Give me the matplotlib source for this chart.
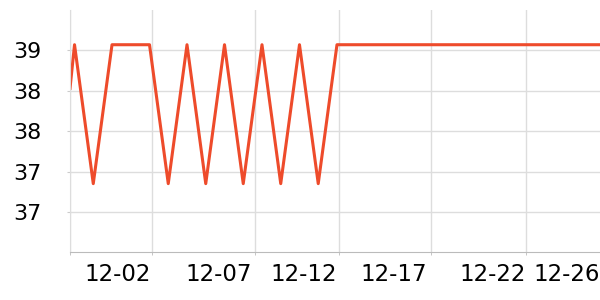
import matplotlib
matplotlib.use("Agg")
import matplotlib.pyplot as plt
from matplotlib.ticker import FuncFormatter

# readings, x in step units (one step = one reading interval)
x_pos = [-0.24, 0, 1, 2, 3, 4, 5, 6, 7, 8, 9, 10, 11, 12, 13, 14, 28.03]
temps = [38.53, 39.07, 37.35, 39.07, 39.07, 39.07, 37.35, 39.07, 37.35,
         39.07, 37.35, 39.07, 37.35, 39.07, 37.35, 39.07, 39.07]

grid_x = [-0.24, 4.107, 9.653, 14.107, 19.04, 24.107]
label_x = [2.28, 7.71, 12.25, 17.04, 22.3, 26.27]
date_labels = ["12-02", "12-07", "12-12", "12-17", "12-22", "12-26"]
y_ticks = [37, 37.5, 38, 38.5, 39]

fig = plt.figure(figsize=(6, 3), dpi=100)
ax = fig.add_axes([0.1167, 0.159, 0.8833, 0.8077])

ax.plot(x_pos, temps, color="#ee4b2b", lw=2.2, solid_joinstyle="round")

ax.set_xlim(-0.24, 28.03)
ax.set_ylim(36.5, 39.5)

ax.set_yticks(y_ticks)
ax.yaxis.set_major_formatter(FuncFormatter(lambda v, p: str(int(v))))

ax.set_xticks(grid_x, minor=True)
ax.set_xticks(label_x)
ax.set_xticklabels(date_labels)

ax.grid(True, axis="y", color="#dddddd", lw=1)
ax.grid(True, axis="x", which="minor", color="#dddddd", lw=1)
ax.grid(False, axis="x", which="major")

ax.tick_params(axis="x", which="major", length=0, pad=8, labelsize=16.5)
ax.tick_params(axis="x", which="minor", length=2.5, color="#bbbbbb")
ax.tick_params(axis="y", length=2.5, color="#cccccc", pad=18, labelsize=16)

for s in ["top", "right"]:
    ax.spines[s].set_visible(False)
ax.spines["left"].set_color("#dddddd")
ax.spines["bottom"].set_color("#bbbbbb")

fig.savefig("out.png", dpi=100)
